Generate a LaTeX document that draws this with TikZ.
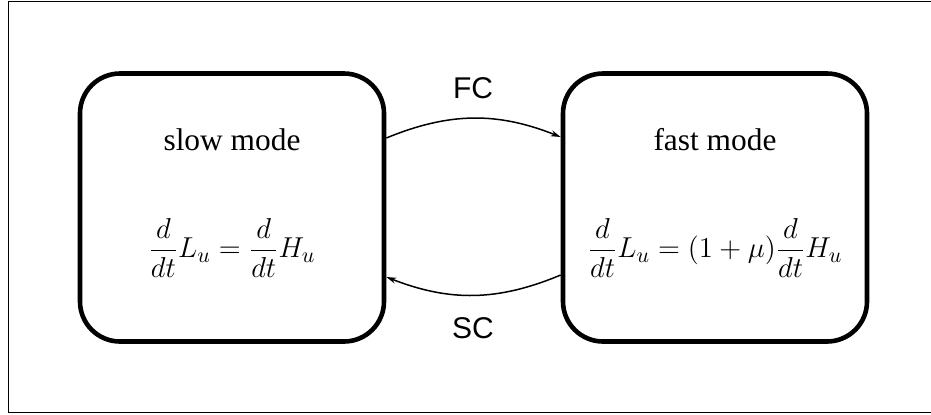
\documentclass[tikz,border=0pt]{standalone}
\usepackage{fontspec}
\setmainfont{Liberation Serif}
\newfontfamily\labelfont{Liberation Sans}
\usetikzlibrary{arrows.meta}
\begin{document}
\begin{tikzpicture}[x=0.5pt,y=-0.5pt,
  modebox/.style={draw,line width=2.3pt,rounded corners=20pt,minimum width=152pt,minimum height=134pt,inner sep=0pt},
  title/.style={font=\fontsize{15.7}{19}\selectfont},
  eqn/.style={font=\fontsize{15.5}{19}\selectfont},
  trans/.style={line width=0.75pt,-{Stealth[length=5pt,width=3pt]}},
  tlabel/.style={font=\labelfont\fontsize{15}{18}\selectfont}]
\useasboundingbox (0,0) rectangle (931,414);
\coordinate (fr1) at (931,1.6);
\coordinate (fr2) at (8.6,1.6);
\coordinate (fr3) at (8.6,412.4);
\coordinate (fr4) at (931,412.4);
\draw[line width=0.8pt] (fr1) -- (fr2) -- (fr3) -- (fr4);
\node[modebox] (slow) at (232,207.5) {};
\node[modebox] (fast) at (715,207.5) {};
\node[title] (slowt) at (232,140) {slow mode};
\node[title] (fastt) at (715,140) {fast mode};
\node[eqn] (sloweq) at (232,248) {$\displaystyle \frac{d}{dt}L_u=\frac{d}{dt}H_u$};
\node[eqn] (fasteq) at (715,248) {$\displaystyle \frac{d}{dt}L_u=(1+\mu)\frac{d}{dt}H_u$};
\draw[trans] ([yshift=34.75pt]slow.east) to[bend left=22] ([yshift=35.25pt]fast.west);
\draw[trans] ([yshift=-33.75pt]fast.west) to[bend left=22] ([yshift=-34.75pt]slow.east);
\node[tlabel] (fc) at (473,88) {FC};
\node[tlabel] (sc) at (473,328) {SC};
\end{tikzpicture}
\end{document}
